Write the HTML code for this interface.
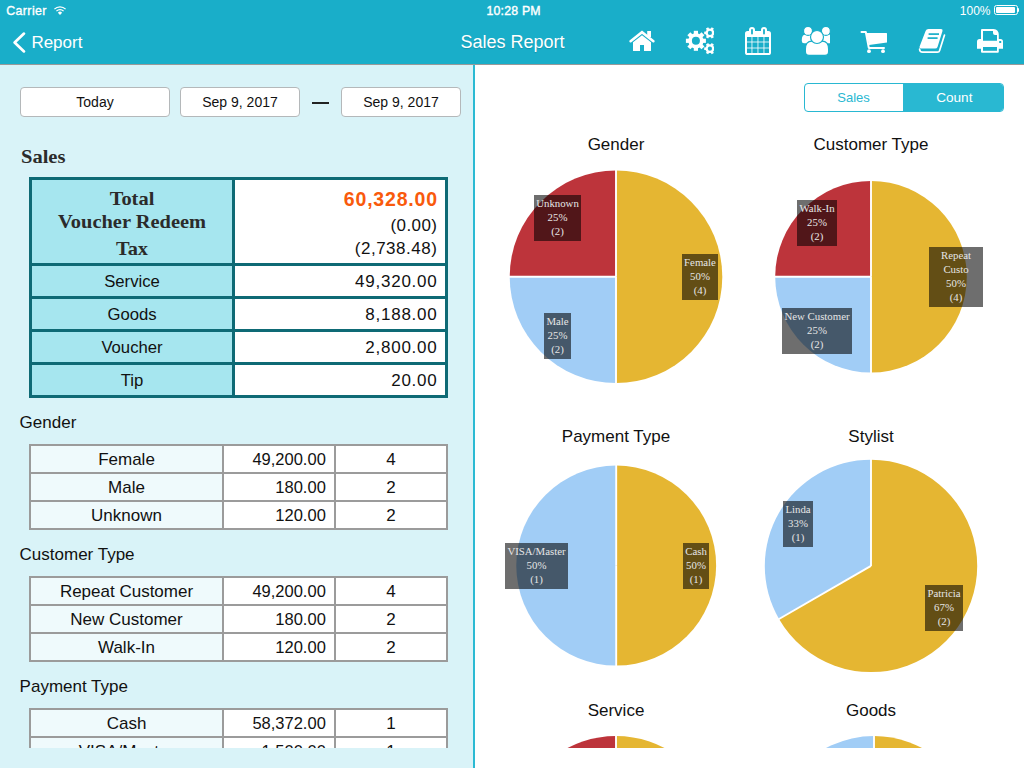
<!DOCTYPE html><html><head><meta charset="utf-8"><style>
html,body{margin:0;padding:0;width:1024px;height:768px;overflow:hidden;background:#fff;}
.t{position:absolute;white-space:nowrap;}
</style></head><body>
<div style="position:absolute;left:0px;top:0px;width:1024px;height:64px;background:#19aec9;"></div>
<div style="position:absolute;left:0px;top:64px;width:1024px;height:1px;background:rgba(0,0,0,0.4);"></div>
<div class="t" style="left:6.2px;top:2.90px;font:400 12.4px/17px 'Liberation Sans', sans-serif;color:#fff;-webkit-text-stroke:0.35px #fff;letter-spacing:0.4px;">Carrier</div>
<svg style="position:absolute;left:52.6px;top:5.6px" width="14" height="9.6" viewBox="0 0 16 11"><path d="M8 10.2 L5.6 7.6 A3.4 3.4 0 0 1 10.4 7.6 Z" fill="#fff"/><path d="M3.9 5.9 A5.8 5.8 0 0 1 12.1 5.9" stroke="#fff" stroke-width="1.5" fill="none"/><path d="M1.6 3.6 A9 9 0 0 1 14.4 3.6" stroke="#fff" stroke-width="1.5" fill="none"/></svg>
<div class="t" style="left:486.5px;top:2.74px;font:400 12.3px/17px 'Liberation Sans', sans-serif;color:#fff;-webkit-text-stroke:0.4px #fff;letter-spacing:0.2px;">10:28 PM</div>
<div class="t" style="left:390.5px;width:600px;text-align:right;top:2.84px;font:400 12px/17px 'Liberation Sans', sans-serif;color:#fff;">100%</div>
<div style="position:absolute;left:994px;top:5.4px;width:21.5px;height:7.6px;border:1px solid #fff;border-radius:2.5px;"></div><div style="position:absolute;left:996.2px;top:7.4px;width:18.799999999999955px;height:5.6px;background:#fff;border-radius:1px;"></div>
<div style="position:absolute;left:1017.6px;top:8.2px;width:1.6999999999999318px;height:3.6000000000000014px;background:#fff;border-radius:0 1px 1px 0;"></div>
<svg style="position:absolute;left:9.6px;top:30px" width="18" height="25" viewBox="0 0 18 25"><path d="M14 3.6 L4.6 12.5 L14 21.4" stroke="#fff" stroke-width="2.7" fill="none" stroke-linecap="round" stroke-linejoin="round"/></svg>
<div class="t" style="left:31.4px;top:30.81px;font:400 17px/24px 'Liberation Sans', sans-serif;color:#fff;">Report</div>
<div class="t" style="left:460.5px;top:29.66px;font:400 18px/25px 'Liberation Sans', sans-serif;color:#fff;text-shadow:0 1px 1px rgba(0,0,0,0.15);">Sales Report</div>
<svg style="position:absolute;left:0;top:0" width="1024" height="64" viewBox="0 0 1024 64"><path d="M630.6,41.2 L642,32.2 L653.4,41.2" stroke="#fff" stroke-width="2.6" fill="none" stroke-linecap="round" stroke-linejoin="miter"/><rect x="647.2" y="31" width="3.8" height="6" fill="#fff"/><path d="M633,42.2 L642,35.3 L651,42.2 L651,50.4 Q651,51 650.4,51 L644,51 L644,45 L640,45 L640,51 L633.6,51 Q633,51 633,50.4 Z" fill="#fff"/><rect x="693.80" y="30.80" width="4.2" height="10" fill="#fff" transform="rotate(0.0 695.9 40.8)"/><rect x="693.80" y="30.80" width="4.2" height="10" fill="#fff" transform="rotate(45.0 695.9 40.8)"/><rect x="693.80" y="30.80" width="4.2" height="10" fill="#fff" transform="rotate(90.0 695.9 40.8)"/><rect x="693.80" y="30.80" width="4.2" height="10" fill="#fff" transform="rotate(135.0 695.9 40.8)"/><rect x="693.80" y="30.80" width="4.2" height="10" fill="#fff" transform="rotate(180.0 695.9 40.8)"/><rect x="693.80" y="30.80" width="4.2" height="10" fill="#fff" transform="rotate(225.0 695.9 40.8)"/><rect x="693.80" y="30.80" width="4.2" height="10" fill="#fff" transform="rotate(270.0 695.9 40.8)"/><rect x="693.80" y="30.80" width="4.2" height="10" fill="#fff" transform="rotate(315.0 695.9 40.8)"/><circle cx="695.9" cy="40.8" r="7.6" fill="#fff"/><circle cx="695.9" cy="40.8" r="4" fill="#19aec9"/><clipPath id="gc"><rect x="700" y="20" width="14.1" height="40"/></clipPath><g clip-path="url(#gc)"><rect x="708.60" y="27.20" width="2.6" height="5.7" fill="#fff" transform="rotate(30.0 709.9 32.9)"/><rect x="708.60" y="27.20" width="2.6" height="5.7" fill="#fff" transform="rotate(90.0 709.9 32.9)"/><rect x="708.60" y="27.20" width="2.6" height="5.7" fill="#fff" transform="rotate(150.0 709.9 32.9)"/><rect x="708.60" y="27.20" width="2.6" height="5.7" fill="#fff" transform="rotate(210.0 709.9 32.9)"/><rect x="708.60" y="27.20" width="2.6" height="5.7" fill="#fff" transform="rotate(270.0 709.9 32.9)"/><rect x="708.60" y="27.20" width="2.6" height="5.7" fill="#fff" transform="rotate(330.0 709.9 32.9)"/><circle cx="709.9" cy="32.9" r="4.4" fill="#fff"/><circle cx="709.9" cy="32.9" r="2.1" fill="#19aec9"/><rect x="708.60" y="43.00" width="2.6" height="5.7" fill="#fff" transform="rotate(30.0 709.9 48.7)"/><rect x="708.60" y="43.00" width="2.6" height="5.7" fill="#fff" transform="rotate(90.0 709.9 48.7)"/><rect x="708.60" y="43.00" width="2.6" height="5.7" fill="#fff" transform="rotate(150.0 709.9 48.7)"/><rect x="708.60" y="43.00" width="2.6" height="5.7" fill="#fff" transform="rotate(210.0 709.9 48.7)"/><rect x="708.60" y="43.00" width="2.6" height="5.7" fill="#fff" transform="rotate(270.0 709.9 48.7)"/><rect x="708.60" y="43.00" width="2.6" height="5.7" fill="#fff" transform="rotate(330.0 709.9 48.7)"/><circle cx="709.9" cy="48.7" r="4.4" fill="#fff"/><circle cx="709.9" cy="48.7" r="2.1" fill="#19aec9"/></g><rect x="745" y="31" width="26" height="24" rx="2.6" fill="#fff"/><rect x="749" y="27" width="6" height="8" rx="3" fill="#fff"/><rect x="761" y="27" width="6" height="8" rx="3" fill="#fff"/><rect x="751.1" y="29" width="1.8" height="5.4" rx="0.9" fill="#19aec9"/><rect x="763.1" y="29" width="1.8" height="5.4" rx="0.9" fill="#19aec9"/><rect x="747" y="37" width="22" height="16" fill="#19aec9"/><rect x="751.0" y="37" width="1.8" height="16" fill="#fff" fill-opacity="0.45"/><rect x="757.0" y="37" width="1.8" height="16" fill="#fff" fill-opacity="0.45"/><rect x="763.0" y="37" width="1.8" height="16" fill="#fff" fill-opacity="0.45"/><rect x="747" y="41.1" width="22" height="1.8" fill="#fff" fill-opacity="0.45"/><rect x="747" y="47.1" width="22" height="1.8" fill="#fff" fill-opacity="0.45"/><path d="M801.8,40 Q801.8,34.6 806,34.6 L810,34.6 Q813.5,34.6 813.5,38 L813.5,43.2 L804,43.2 Q801.8,43.2 801.8,41 Z" fill="#fff"/><path d="M830,34.6 L830,43.2 L820.5,43.2 L820.5,38 Q820.5,34.6 824,34.6 Z" fill="#fff"/><circle cx="808" cy="30.9" r="4.5" fill="#fff" stroke="#19aec9" stroke-width="1.2"/><circle cx="825.9" cy="30.9" r="4.5" fill="#fff" stroke="#19aec9" stroke-width="1.2"/><path d="M805.4,51.5 L805.4,49 Q805.4,41.2 812,41.1 Q817,44 822,41.1 Q828.6,41.2 828.6,49 L828.6,51.5 Q828.6,55.4 825,55.4 L809,55.4 Q805.4,55.4 805.4,51.5 Z" fill="#fff" stroke="#19aec9" stroke-width="1.2"/><circle cx="817" cy="37" r="6.5" fill="#fff" stroke="#19aec9" stroke-width="1.2"/><path d="M861.5,32 L865.8,32 L868.8,47.9 L884,47.9" stroke="#fff" stroke-width="2" fill="none" stroke-linecap="round" stroke-linejoin="round"/><path d="M866,33 L886.5,33 Q887,33 887,33.5 L887,42.6 L869,45 Z" fill="#fff"/><circle cx="869" cy="51.2" r="1.9" fill="#fff"/><circle cx="883" cy="51.2" r="1.9" fill="#fff"/><path d="M928.5,29 L941,29 Q943,29 942.5,31 L937.5,47 Q937,48.6 935,48.6 L921,48.6 Q919,48.4 919.6,46.5 L925.6,31 Q926.3,29 928.5,29 Z" fill="#fff"/><path d="M928.6,34.1 L939,34.1" stroke="#19aec9" stroke-width="1.7"/><path d="M927.6,38.1 L937.6,38.1" stroke="#19aec9" stroke-width="1.7"/><path d="M944.5,35 L939.6,50.6 Q939.2,52.2 937.4,52.2 L922.5,52.2 Q919.8,52.2 919.6,49.2" stroke="#fff" stroke-width="1.7" fill="none" stroke-linecap="round"/><path d="M982,29.1 L993.5,29.1 Q998.8,29.6 998.8,35 L998.8,41 L981,41 L981,30 Q981,29.1 982,29.1 Z" fill="#fff"/><path d="M979.5,39 L1000.5,39 Q1003,39 1003,41.5 L1003,48.8 L977,48.8 L977,41.5 Q977,39 979.5,39 Z" fill="#fff"/><path d="M981,47 L998.8,47 L998.8,51.8 Q998.8,52.8 997.8,52.8 L982,52.8 Q981,52.8 981,51.8 Z" fill="#fff"/><path d="M983,31 L993,31 L993,33 Q993,35 995,35 L997,35 L997,40.8 L983,40.8 Z" fill="#19aec9"/><rect x="983" y="47" width="14" height="3.8" fill="#19aec9"/><rect x="999.2" y="41" width="2" height="2" fill="#19aec9"/></svg>
<div style="position:absolute;left:0px;top:65px;width:473px;height:703px;background:#d9f3f8;"></div>
<div style="position:absolute;left:473px;top:65px;width:2px;height:703px;background:#2bbad3;"></div>
<div style="position:absolute;left:20px;top:87px;width:148px;height:28px;border:1px solid #b4b8ba;border-radius:4px;background:#fff;"></div>
<div class="t" style="left:-205.0px;width:600px;text-align:center;top:92.15px;font:400 14px/20px 'Liberation Sans', sans-serif;color:#111;">Today</div>
<div style="position:absolute;left:180px;top:87px;width:118px;height:28px;border:1px solid #b4b8ba;border-radius:4px;background:#fff;"></div>
<div class="t" style="left:-60.0px;width:600px;text-align:center;top:92.15px;font:400 14px/20px 'Liberation Sans', sans-serif;color:#111;">Sep 9, 2017</div>
<div style="position:absolute;left:341px;top:87px;width:118px;height:28px;border:1px solid #b4b8ba;border-radius:4px;background:#fff;"></div>
<div class="t" style="left:101.0px;width:600px;text-align:center;top:92.15px;font:400 14px/20px 'Liberation Sans', sans-serif;color:#111;">Sep 9, 2017</div>
<div style="position:absolute;left:312px;top:102px;width:17px;height:1.5999999999999943px;background:#222;"></div>
<div class="t" style="left:21.3px;top:143.39px;font:700 19px/27px 'Liberation Serif', serif;color:#2b2b2b;transform:scaleX(1.08);transform-origin:0 0;">Sales</div>
<div style="position:absolute;left:29px;top:177px;width:419px;height:221px;background:#0e6a75;"></div>
<div style="position:absolute;left:32px;top:180px;width:200px;height:83px;background:#a6e6ef;"></div>
<div style="position:absolute;left:235px;top:180px;width:210px;height:83px;background:#fff;"></div>
<div style="position:absolute;left:32px;top:266px;width:200px;height:30px;background:#a6e6ef;"></div>
<div style="position:absolute;left:235px;top:266px;width:210px;height:30px;background:#fff;"></div>
<div style="position:absolute;left:32px;top:299px;width:200px;height:30px;background:#a6e6ef;"></div>
<div style="position:absolute;left:235px;top:299px;width:210px;height:30px;background:#fff;"></div>
<div style="position:absolute;left:32px;top:332px;width:200px;height:30px;background:#a6e6ef;"></div>
<div style="position:absolute;left:235px;top:332px;width:210px;height:30px;background:#fff;"></div>
<div style="position:absolute;left:32px;top:365px;width:200px;height:30px;background:#a6e6ef;"></div>
<div style="position:absolute;left:235px;top:365px;width:210px;height:30px;background:#fff;"></div>
<div class="t" style="left:-168px;width:600px;text-align:center;top:185.39px;font:700 19px/27px 'Liberation Serif', serif;color:#2b2b2b;transform:scaleX(1.075);">Total</div>
<div class="t" style="left:-168px;width:600px;text-align:center;top:208.39px;font:700 19px/27px 'Liberation Serif', serif;color:#2b2b2b;transform:scaleX(1.075);">Voucher Redeem</div>
<div class="t" style="left:-168px;width:600px;text-align:center;top:235.39px;font:700 19px/27px 'Liberation Serif', serif;color:#2b2b2b;transform:scaleX(1.075);">Tax</div>
<div class="t" style="left:-162.2px;width:600px;text-align:right;top:186.44px;font:700 19.5px/27px 'Liberation Sans', sans-serif;color:#f95a0c;letter-spacing:0.8px;">60,328.00</div>
<div class="t" style="left:-162.7px;width:600px;text-align:right;top:214.41px;font:400 17px/24px 'Liberation Sans', sans-serif;color:#111;letter-spacing:0.4px;">(0.00)</div>
<div class="t" style="left:-162.7px;width:600px;text-align:right;top:237.21px;font:400 17px/24px 'Liberation Sans', sans-serif;color:#111;letter-spacing:0.5px;">(2,738.48)</div>
<div class="t" style="left:-168px;width:600px;text-align:center;top:270.21px;font:400 16.7px/23px 'Liberation Sans', sans-serif;color:#111;">Service</div>
<div class="t" style="left:-162.5px;width:600px;text-align:right;top:269.61px;font:400 17px/24px 'Liberation Sans', sans-serif;color:#111;letter-spacing:0.75px;">49,320.00</div>
<div class="t" style="left:-168px;width:600px;text-align:center;top:303.21px;font:400 16.7px/23px 'Liberation Sans', sans-serif;color:#111;">Goods</div>
<div class="t" style="left:-162.5px;width:600px;text-align:right;top:302.61px;font:400 17px/24px 'Liberation Sans', sans-serif;color:#111;letter-spacing:0.75px;">8,188.00</div>
<div class="t" style="left:-168px;width:600px;text-align:center;top:336.21px;font:400 16.7px/23px 'Liberation Sans', sans-serif;color:#111;">Voucher</div>
<div class="t" style="left:-162.5px;width:600px;text-align:right;top:335.61px;font:400 17px/24px 'Liberation Sans', sans-serif;color:#111;letter-spacing:0.75px;">2,800.00</div>
<div class="t" style="left:-168px;width:600px;text-align:center;top:369.21px;font:400 16.7px/23px 'Liberation Sans', sans-serif;color:#111;">Tip</div>
<div class="t" style="left:-162.5px;width:600px;text-align:right;top:368.61px;font:400 17px/24px 'Liberation Sans', sans-serif;color:#111;letter-spacing:0.75px;">20.00</div>
<div style="position:absolute;left:0;top:0;width:473px;height:748px;overflow:hidden;">
<div class="t" style="left:19.6px;top:410.81px;font:400 17px/24px 'Liberation Sans', sans-serif;color:#111;">Gender</div>
<div style="position:absolute;left:29px;top:444px;width:419px;height:86px;background:#9b9b9b;"></div>
<div style="position:absolute;left:31px;top:446px;width:191px;height:26px;background:#effafc;"></div>
<div style="position:absolute;left:224px;top:446px;width:110px;height:26px;background:#fff;"></div>
<div style="position:absolute;left:336px;top:446px;width:110px;height:26px;background:#fff;"></div>
<div class="t" style="left:-173.5px;width:600px;text-align:center;top:447.51px;font:400 17px/24px 'Liberation Sans', sans-serif;color:#111;">Female</div>
<div class="t" style="left:-274.2px;width:600px;text-align:right;top:448.18px;font:400 16.5px/23px 'Liberation Sans', sans-serif;color:#111;">49,200.00</div>
<div class="t" style="left:91px;width:600px;text-align:center;top:447.51px;font:400 17px/24px 'Liberation Sans', sans-serif;color:#111;">4</div>
<div style="position:absolute;left:31px;top:474px;width:191px;height:26px;background:#effafc;"></div>
<div style="position:absolute;left:224px;top:474px;width:110px;height:26px;background:#fff;"></div>
<div style="position:absolute;left:336px;top:474px;width:110px;height:26px;background:#fff;"></div>
<div class="t" style="left:-173.5px;width:600px;text-align:center;top:475.51px;font:400 17px/24px 'Liberation Sans', sans-serif;color:#111;">Male</div>
<div class="t" style="left:-274.2px;width:600px;text-align:right;top:476.18px;font:400 16.5px/23px 'Liberation Sans', sans-serif;color:#111;">180.00</div>
<div class="t" style="left:91px;width:600px;text-align:center;top:475.51px;font:400 17px/24px 'Liberation Sans', sans-serif;color:#111;">2</div>
<div style="position:absolute;left:31px;top:502px;width:191px;height:26px;background:#effafc;"></div>
<div style="position:absolute;left:224px;top:502px;width:110px;height:26px;background:#fff;"></div>
<div style="position:absolute;left:336px;top:502px;width:110px;height:26px;background:#fff;"></div>
<div class="t" style="left:-173.5px;width:600px;text-align:center;top:503.51px;font:400 17px/24px 'Liberation Sans', sans-serif;color:#111;">Unknown</div>
<div class="t" style="left:-274.2px;width:600px;text-align:right;top:504.18px;font:400 16.5px/23px 'Liberation Sans', sans-serif;color:#111;">120.00</div>
<div class="t" style="left:91px;width:600px;text-align:center;top:503.51px;font:400 17px/24px 'Liberation Sans', sans-serif;color:#111;">2</div>
<div class="t" style="left:19.6px;top:542.81px;font:400 17px/24px 'Liberation Sans', sans-serif;color:#111;">Customer Type</div>
<div style="position:absolute;left:29px;top:576px;width:419px;height:86px;background:#9b9b9b;"></div>
<div style="position:absolute;left:31px;top:578px;width:191px;height:26px;background:#effafc;"></div>
<div style="position:absolute;left:224px;top:578px;width:110px;height:26px;background:#fff;"></div>
<div style="position:absolute;left:336px;top:578px;width:110px;height:26px;background:#fff;"></div>
<div class="t" style="left:-173.5px;width:600px;text-align:center;top:579.51px;font:400 17px/24px 'Liberation Sans', sans-serif;color:#111;">Repeat Customer</div>
<div class="t" style="left:-274.2px;width:600px;text-align:right;top:580.18px;font:400 16.5px/23px 'Liberation Sans', sans-serif;color:#111;">49,200.00</div>
<div class="t" style="left:91px;width:600px;text-align:center;top:579.51px;font:400 17px/24px 'Liberation Sans', sans-serif;color:#111;">4</div>
<div style="position:absolute;left:31px;top:606px;width:191px;height:26px;background:#effafc;"></div>
<div style="position:absolute;left:224px;top:606px;width:110px;height:26px;background:#fff;"></div>
<div style="position:absolute;left:336px;top:606px;width:110px;height:26px;background:#fff;"></div>
<div class="t" style="left:-173.5px;width:600px;text-align:center;top:607.51px;font:400 17px/24px 'Liberation Sans', sans-serif;color:#111;">New Customer</div>
<div class="t" style="left:-274.2px;width:600px;text-align:right;top:608.18px;font:400 16.5px/23px 'Liberation Sans', sans-serif;color:#111;">180.00</div>
<div class="t" style="left:91px;width:600px;text-align:center;top:607.51px;font:400 17px/24px 'Liberation Sans', sans-serif;color:#111;">2</div>
<div style="position:absolute;left:31px;top:634px;width:191px;height:26px;background:#effafc;"></div>
<div style="position:absolute;left:224px;top:634px;width:110px;height:26px;background:#fff;"></div>
<div style="position:absolute;left:336px;top:634px;width:110px;height:26px;background:#fff;"></div>
<div class="t" style="left:-173.5px;width:600px;text-align:center;top:635.51px;font:400 17px/24px 'Liberation Sans', sans-serif;color:#111;">Walk-In</div>
<div class="t" style="left:-274.2px;width:600px;text-align:right;top:636.18px;font:400 16.5px/23px 'Liberation Sans', sans-serif;color:#111;">120.00</div>
<div class="t" style="left:91px;width:600px;text-align:center;top:635.51px;font:400 17px/24px 'Liberation Sans', sans-serif;color:#111;">2</div>
<div class="t" style="left:19.6px;top:674.81px;font:400 17px/24px 'Liberation Sans', sans-serif;color:#111;">Payment Type</div>
<div style="position:absolute;left:29px;top:708px;width:419px;height:86px;background:#9b9b9b;"></div>
<div style="position:absolute;left:31px;top:710px;width:191px;height:26px;background:#effafc;"></div>
<div style="position:absolute;left:224px;top:710px;width:110px;height:26px;background:#fff;"></div>
<div style="position:absolute;left:336px;top:710px;width:110px;height:26px;background:#fff;"></div>
<div class="t" style="left:-173.5px;width:600px;text-align:center;top:711.51px;font:400 17px/24px 'Liberation Sans', sans-serif;color:#111;">Cash</div>
<div class="t" style="left:-274.2px;width:600px;text-align:right;top:712.18px;font:400 16.5px/23px 'Liberation Sans', sans-serif;color:#111;">58,372.00</div>
<div class="t" style="left:91px;width:600px;text-align:center;top:711.51px;font:400 17px/24px 'Liberation Sans', sans-serif;color:#111;">1</div>
<div style="position:absolute;left:31px;top:738px;width:191px;height:26px;background:#effafc;"></div>
<div style="position:absolute;left:224px;top:738px;width:110px;height:26px;background:#fff;"></div>
<div style="position:absolute;left:336px;top:738px;width:110px;height:26px;background:#fff;"></div>
<div class="t" style="left:-173.5px;width:600px;text-align:center;top:739.51px;font:400 17px/24px 'Liberation Sans', sans-serif;color:#111;">VISA/Master</div>
<div class="t" style="left:-274.2px;width:600px;text-align:right;top:740.18px;font:400 16.5px/23px 'Liberation Sans', sans-serif;color:#111;">1,500.00</div>
<div class="t" style="left:91px;width:600px;text-align:center;top:739.51px;font:400 17px/24px 'Liberation Sans', sans-serif;color:#111;">1</div>
<div style="position:absolute;left:31px;top:766px;width:191px;height:26px;background:#effafc;"></div>
<div style="position:absolute;left:224px;top:766px;width:110px;height:26px;background:#fff;"></div>
<div style="position:absolute;left:336px;top:766px;width:110px;height:26px;background:#fff;"></div>
<div class="t" style="left:-173.5px;width:600px;text-align:center;top:767.51px;font:400 17px/24px 'Liberation Sans', sans-serif;color:#111;">Other</div>
<div class="t" style="left:-274.2px;width:600px;text-align:right;top:768.18px;font:400 16.5px/23px 'Liberation Sans', sans-serif;color:#111;">0.00</div>
<div class="t" style="left:91px;width:600px;text-align:center;top:767.51px;font:400 17px/24px 'Liberation Sans', sans-serif;color:#111;">0</div>
</div>
<div style="position:absolute;left:804px;top:83px;width:198px;height:27px;border:1px solid #29b8d2;border-radius:4px;background:#fff;overflow:hidden;"><div style="position:absolute;left:98px;top:0;width:100px;height:27px;background:#29b8d2;"></div></div>
<div class="t" style="left:553.5px;width:600px;text-align:center;top:89.20px;font:400 13px/18px 'Liberation Sans', sans-serif;color:#29b8d2;">Sales</div>
<div class="t" style="left:654.3px;width:600px;text-align:center;top:88.49px;font:400 13.6px/19px 'Liberation Sans', sans-serif;color:#fff;">Count</div>
<svg style="position:absolute;left:0;top:0" width="1024" height="748" viewBox="0 0 1024 748"><path d="M616,276.8 L616.00,170.50 A106.3,106.3 0 0 1 616.00,383.10 Z" fill="#e5b632"/><path d="M616,276.8 L616.00,383.10 A106.3,106.3 0 0 1 509.70,276.80 Z" fill="#a1cdf6"/><path d="M616,276.8 L509.70,276.80 A106.3,106.3 0 0 1 616.00,170.50 Z" fill="#bd343b"/><path d="M616,276.8 L616.00,169.50" stroke="#fff" stroke-width="1.9"/><path d="M616,276.8 L616.00,384.10" stroke="#fff" stroke-width="1.9"/><path d="M616,276.8 L508.70,276.80" stroke="#fff" stroke-width="1.9"/><path d="M871,276.8 L871.00,181.00 A95.8,95.8 0 0 1 871.00,372.60 Z" fill="#e5b632"/><path d="M871,276.8 L871.00,372.60 A95.8,95.8 0 0 1 775.20,276.80 Z" fill="#a1cdf6"/><path d="M871,276.8 L775.20,276.80 A95.8,95.8 0 0 1 871.00,181.00 Z" fill="#bd343b"/><path d="M871,276.8 L871.00,180.00" stroke="#fff" stroke-width="1.9"/><path d="M871,276.8 L871.00,373.60" stroke="#fff" stroke-width="1.9"/><path d="M871,276.8 L774.20,276.80" stroke="#fff" stroke-width="1.9"/><path d="M616.2,565.6 L616.20,465.60 A100,100 0 0 1 616.20,665.60 Z" fill="#e5b632"/><path d="M616.2,565.6 L616.20,665.60 A100,100 0 0 1 616.20,465.60 Z" fill="#a1cdf6"/><path d="M616.2,565.6 L616.20,464.60" stroke="#fff" stroke-width="1.9"/><path d="M616.2,565.6 L616.20,666.60" stroke="#fff" stroke-width="1.9"/><path d="M871,565.9 L871.00,459.70 A106.2,106.2 0 1 1 779.03,619.00 Z" fill="#e5b632"/><path d="M871,565.9 L779.03,619.00 A106.2,106.2 0 0 1 871.00,459.70 Z" fill="#a1cdf6"/><path d="M871,565.9 L871.00,458.70" stroke="#fff" stroke-width="1.9"/><path d="M871,565.9 L778.16,619.50" stroke="#fff" stroke-width="1.9"/><path d="M616,840 L616.00,736.00 A104,104 0 0 1 668.00,930.07 Z" fill="#e5b632"/><path d="M616,840 L668.00,930.07 A104,104 0 0 1 564.00,930.07 Z" fill="#a1cdf6"/><path d="M616,840 L564.00,930.07 A104,104 0 0 1 616.00,736.00 Z" fill="#bd343b"/><path d="M616,840 L616.00,735.00" stroke="#fff" stroke-width="1.9"/><path d="M616,840 L668.50,930.93" stroke="#fff" stroke-width="1.9"/><path d="M616,840 L563.50,930.93" stroke="#fff" stroke-width="1.9"/><path d="M874,838 L874.00,736.00 A102,102 0 0 1 908.89,933.85 Z" fill="#e5b632"/><path d="M874,838 L908.89,933.85 A102,102 0 1 1 874.00,736.00 Z" fill="#a1cdf6"/><path d="M874,838 L874.00,735.00" stroke="#fff" stroke-width="1.9"/><path d="M874,838 L909.23,934.79" stroke="#fff" stroke-width="1.9"/></svg>
<div class="t" style="left:316px;width:600px;text-align:center;top:132.71px;font:400 17px/24px 'Liberation Sans', sans-serif;color:#111;">Gender</div>
<div class="t" style="left:571px;width:600px;text-align:center;top:132.71px;font:400 17px/24px 'Liberation Sans', sans-serif;color:#111;">Customer Type</div>
<div class="t" style="left:316px;width:600px;text-align:center;top:424.81px;font:400 17px/24px 'Liberation Sans', sans-serif;color:#111;">Payment Type</div>
<div class="t" style="left:571px;width:600px;text-align:center;top:424.81px;font:400 17px/24px 'Liberation Sans', sans-serif;color:#111;">Stylist</div>
<div class="t" style="left:316px;width:600px;text-align:center;top:698.61px;font:400 17px/24px 'Liberation Sans', sans-serif;color:#111;">Service</div>
<div class="t" style="left:571px;width:600px;text-align:center;top:698.61px;font:400 17px/24px 'Liberation Sans', sans-serif;color:#111;">Goods</div>
<div style="position:absolute;left:534px;top:195px;width:47px;height:46px;background:rgba(0,0,0,0.57);"></div>
<div class="t" style="left:257.5px;width:600px;text-align:center;top:195.96px;font:400 10.8px/15px 'Liberation Serif', serif;color:#e6e6e6;">Unknown</div>
<div class="t" style="left:257.5px;width:600px;text-align:center;top:209.96px;font:400 10.8px/15px 'Liberation Serif', serif;color:#e6e6e6;">25%</div>
<div class="t" style="left:257.5px;width:600px;text-align:center;top:223.96px;font:400 10.8px/15px 'Liberation Serif', serif;color:#e6e6e6;">(2)</div>
<div style="position:absolute;left:682px;top:254px;width:36px;height:46px;background:rgba(0,0,0,0.57);"></div>
<div class="t" style="left:400.0px;width:600px;text-align:center;top:254.96px;font:400 10.8px/15px 'Liberation Serif', serif;color:#e6e6e6;">Female</div>
<div class="t" style="left:400.0px;width:600px;text-align:center;top:268.95px;font:400 10.8px/15px 'Liberation Serif', serif;color:#e6e6e6;">50%</div>
<div class="t" style="left:400.0px;width:600px;text-align:center;top:282.95px;font:400 10.8px/15px 'Liberation Serif', serif;color:#e6e6e6;">(4)</div>
<div style="position:absolute;left:544px;top:313px;width:27px;height:46px;background:rgba(0,0,0,0.57);"></div>
<div class="t" style="left:257.5px;width:600px;text-align:center;top:313.95px;font:400 10.8px/15px 'Liberation Serif', serif;color:#e6e6e6;">Male</div>
<div class="t" style="left:257.5px;width:600px;text-align:center;top:327.95px;font:400 10.8px/15px 'Liberation Serif', serif;color:#e6e6e6;">25%</div>
<div class="t" style="left:257.5px;width:600px;text-align:center;top:341.95px;font:400 10.8px/15px 'Liberation Serif', serif;color:#e6e6e6;">(2)</div>
<div style="position:absolute;left:797px;top:200px;width:40px;height:46px;background:rgba(0,0,0,0.57);"></div>
<div class="t" style="left:517.0px;width:600px;text-align:center;top:200.96px;font:400 10.8px/15px 'Liberation Serif', serif;color:#e6e6e6;">Walk-In</div>
<div class="t" style="left:517.0px;width:600px;text-align:center;top:214.96px;font:400 10.8px/15px 'Liberation Serif', serif;color:#e6e6e6;">25%</div>
<div class="t" style="left:517.0px;width:600px;text-align:center;top:228.96px;font:400 10.8px/15px 'Liberation Serif', serif;color:#e6e6e6;">(2)</div>
<div style="position:absolute;left:929px;top:247px;width:54px;height:60px;background:rgba(0,0,0,0.57);"></div>
<div class="t" style="left:656.0px;width:600px;text-align:center;top:247.96px;font:400 10.8px/15px 'Liberation Serif', serif;color:#e6e6e6;">Repeat</div>
<div class="t" style="left:656.0px;width:600px;text-align:center;top:261.95px;font:400 10.8px/15px 'Liberation Serif', serif;color:#e6e6e6;">Custo</div>
<div class="t" style="left:656.0px;width:600px;text-align:center;top:275.95px;font:400 10.8px/15px 'Liberation Serif', serif;color:#e6e6e6;">50%</div>
<div class="t" style="left:656.0px;width:600px;text-align:center;top:289.95px;font:400 10.8px/15px 'Liberation Serif', serif;color:#e6e6e6;">(4)</div>
<div style="position:absolute;left:782px;top:308px;width:70px;height:46px;background:rgba(0,0,0,0.57);"></div>
<div class="t" style="left:517.0px;width:600px;text-align:center;top:308.95px;font:400 10.8px/15px 'Liberation Serif', serif;color:#e6e6e6;">New Customer</div>
<div class="t" style="left:517.0px;width:600px;text-align:center;top:322.95px;font:400 10.8px/15px 'Liberation Serif', serif;color:#e6e6e6;">25%</div>
<div class="t" style="left:517.0px;width:600px;text-align:center;top:336.95px;font:400 10.8px/15px 'Liberation Serif', serif;color:#e6e6e6;">(2)</div>
<div style="position:absolute;left:505px;top:543px;width:63px;height:46px;background:rgba(0,0,0,0.57);"></div>
<div class="t" style="left:236.5px;width:600px;text-align:center;top:543.96px;font:400 10.8px/15px 'Liberation Serif', serif;color:#e6e6e6;">VISA/Master</div>
<div class="t" style="left:236.5px;width:600px;text-align:center;top:557.96px;font:400 10.8px/15px 'Liberation Serif', serif;color:#e6e6e6;">50%</div>
<div class="t" style="left:236.5px;width:600px;text-align:center;top:571.96px;font:400 10.8px/15px 'Liberation Serif', serif;color:#e6e6e6;">(1)</div>
<div style="position:absolute;left:683px;top:543px;width:26px;height:46px;background:rgba(0,0,0,0.57);"></div>
<div class="t" style="left:396.0px;width:600px;text-align:center;top:543.96px;font:400 10.8px/15px 'Liberation Serif', serif;color:#e6e6e6;">Cash</div>
<div class="t" style="left:396.0px;width:600px;text-align:center;top:557.96px;font:400 10.8px/15px 'Liberation Serif', serif;color:#e6e6e6;">50%</div>
<div class="t" style="left:396.0px;width:600px;text-align:center;top:571.96px;font:400 10.8px/15px 'Liberation Serif', serif;color:#e6e6e6;">(1)</div>
<div style="position:absolute;left:783px;top:501px;width:30px;height:46px;background:rgba(0,0,0,0.57);"></div>
<div class="t" style="left:498.0px;width:600px;text-align:center;top:501.95px;font:400 10.8px/15px 'Liberation Serif', serif;color:#e6e6e6;">Linda</div>
<div class="t" style="left:498.0px;width:600px;text-align:center;top:515.96px;font:400 10.8px/15px 'Liberation Serif', serif;color:#e6e6e6;">33%</div>
<div class="t" style="left:498.0px;width:600px;text-align:center;top:529.96px;font:400 10.8px/15px 'Liberation Serif', serif;color:#e6e6e6;">(1)</div>
<div style="position:absolute;left:925px;top:585px;width:38px;height:46px;background:rgba(0,0,0,0.57);"></div>
<div class="t" style="left:644.0px;width:600px;text-align:center;top:585.96px;font:400 10.8px/15px 'Liberation Serif', serif;color:#e6e6e6;">Patricia</div>
<div class="t" style="left:644.0px;width:600px;text-align:center;top:599.96px;font:400 10.8px/15px 'Liberation Serif', serif;color:#e6e6e6;">67%</div>
<div class="t" style="left:644.0px;width:600px;text-align:center;top:613.96px;font:400 10.8px/15px 'Liberation Serif', serif;color:#e6e6e6;">(2)</div>
</body></html>
